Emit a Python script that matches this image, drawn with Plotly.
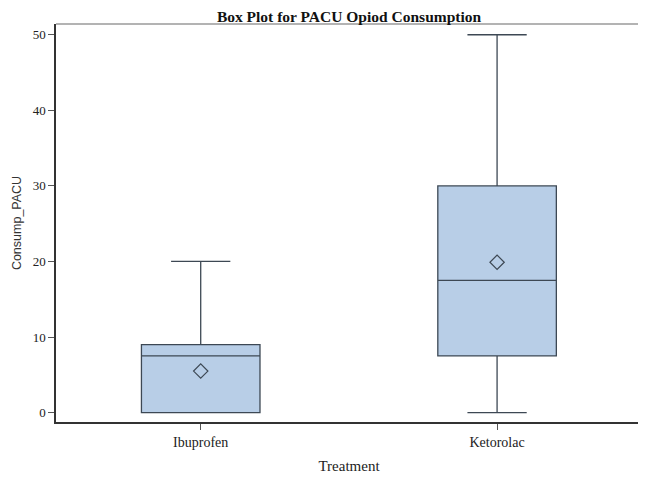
import plotly.graph_objects as go

treatments = ["Ibuprofen", "Ketorolac"]
q1 = [0, 7.5]
median = [7.5, 17.5]
q3 = [9, 30]
lower = [0, 0]
upper = [20, 50]
means = [5.5, 19.9]

LINE = "#3D4854"
fig = go.Figure()
fig.add_trace(go.Box(
    x=treatments, q1=q1, median=median, q3=q3,
    lowerfence=lower, upperfence=upper,
    fillcolor="#B8CEE7", line=dict(color=LINE, width=1.3),
    width=0.4, whiskerwidth=0.5, boxpoints=False, showlegend=False,
    hoverinfo="skip",
))
fig.add_trace(go.Scatter(
    x=treatments, y=means, mode="markers",
    marker=dict(symbol="diamond-open", size=11, color=LINE, line=dict(width=1.2)),
    showlegend=False,
))

serif = "Liberation Serif, Times New Roman, serif"
# page has an 8px body margin; figure is sized/positioned to compensate
fig.update_layout(
    width=638, height=469,
    margin=dict(l=48, r=4, t=16, b=55),
    paper_bgcolor="white", plot_bgcolor="white",
    title=dict(text="<b>Box Plot for PACU Opiod Consumption</b>", x=0.5, xanchor="center",
               xref="paper", y=0.982, yanchor="middle", yref="container",
               font=dict(family=serif, size=15.5, color="#111")),
    font=dict(family=serif, size=13, color="#222"),
    xaxis=dict(title=dict(text="Treatment", font=dict(family=serif, size=15, color="#222"), standoff=12),
               range=[-0.4883, 1.489], showline=True, linecolor="#333", linewidth=1.5,
               mirror=False, ticks="outside", ticklen=6, tickcolor="#555", showgrid=False,
               automargin=False, tickfont=dict(family=serif, size=14, color="#222")),
    yaxis=dict(title=dict(text="Consump_PACU", font=dict(family="Liberation Sans, Arial, sans-serif", size=12.5, color="#333"), standoff=8),
               range=[-1.24, 51.42], tickvals=[0, 10, 20, 30, 40, 50], showline=True,
               linecolor="#333", linewidth=1.5, mirror=True, ticks="outside", ticklen=6,
               tickcolor="#555", showgrid=False, zeroline=False, automargin=False,
               tickfont=dict(family=serif, size=13, color="#222")),
    shapes=[dict(type="line", xref="paper", yref="paper", x0=0, x1=1, y0=1, y1=1,
                 line=dict(color="#9A9A9A", width=1.5))],
)
fig.write_html("out.html")
